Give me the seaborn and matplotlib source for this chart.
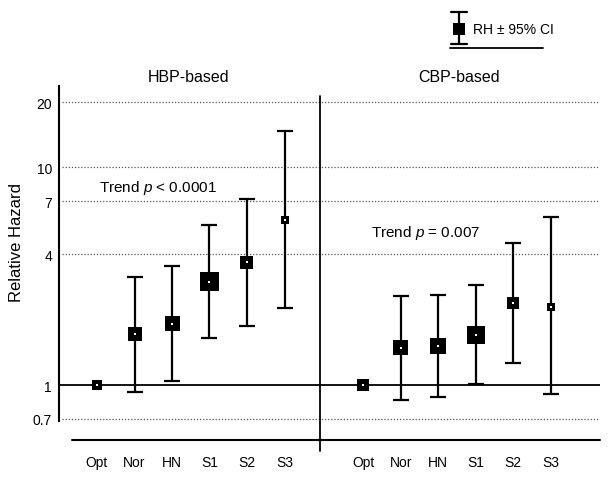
import numpy as np
import pandas as pd
import matplotlib
matplotlib.use("Agg")
import matplotlib.pyplot as plt
import seaborn as sns

# ---------------- data ----------------
categories = ["Opt", "Nor", "HN", "S1", "S2", "S3"]
hbp_rh = [1.0, 1.72, 1.91, 2.98, 3.67, 5.75]
hbp_lo = [1.0, 0.93, 1.04, 1.64, 1.86, 2.25]
hbp_hi = [1.0, 3.13, 3.51, 5.44, 7.17, 14.7]
cbp_rh = [1.0, 1.48, 1.51, 1.70, 2.37, 2.29]
cbp_lo = [1.0, 0.853, 0.884, 1.01, 1.26, 0.912]
cbp_hi = [1.0, 2.56, 2.59, 2.89, 4.50, 5.92]
y_ticks = [0.7, 1, 4, 7, 10, 20]
y_tick_labels = ["0.7", "1", "4", "7", "10", "20"]
panel_titles = ["HBP-based", "CBP-based"]
trend_texts = ["Trend $p$ < 0.0001", "Trend $p$ = 0.007"]

# ---------------- style ----------------
hbp_marker_px = [10, 14, 15, 19, 13, 8]
cbp_marker_px = [12, 15, 16, 18, 12, 8]

sns.set_style("white")
plt.rcParams["font.family"] = ["Liberation Sans", "DejaVu Sans"]
plt.rcParams["mathtext.fontset"] = "custom"
plt.rcParams["mathtext.rm"] = "Liberation Sans"
plt.rcParams["mathtext.it"] = "Liberation Sans:italic"
for k in ["text.color", "axes.labelcolor", "xtick.color", "ytick.color"]:
    plt.rcParams[k] = "black"

W, H = 610, 481
fig = plt.figure(figsize=(W / 100, H / 100), dpi=100)

# pixel mapping helpers (y: log scale)
def py2val(py):
    return 10 ** ((386 - py) / 217.5)

ax_l, ax_r, ax_t, ax_b = 59, 600, 87, 452
ax = fig.add_axes([ax_l / W, 1 - ax_b / H, (ax_r - ax_l) / W, (ax_b - ax_t) / H])
ax.set_yscale("log")
ax.set_ylim(py2val(ax_b), py2val(ax_t))
x0_px, step_px = 97, 37.5
def px2x(px):
    return (px - x0_px) / step_px
ax.set_xlim(px2x(ax_l), px2x(ax_r))

x_left = np.arange(6, dtype=float)
x_right = 7.1 + np.arange(6, dtype=float)

df = pd.DataFrame({
    "x": np.concatenate([x_left, x_right]),
    "rh": hbp_rh + cbp_rh,
    "lo": hbp_lo + cbp_lo,
    "hi": hbp_hi + cbp_hi,
    "msize": hbp_marker_px + cbp_marker_px,
    "cat": categories + categories,
})

# gridlines
for v in [0.7, 4, 7, 10, 20]:
    ax.plot([px2x(62), px2x(600)], [v, v], ls=(0, (1, 1.5)), color="#555555", lw=0.9, zorder=1)
ax.axhline(1, color="black", lw=1.3, zorder=2)

# error bars
err = np.vstack([df["rh"] - df["lo"], df["hi"] - df["rh"]])
mask = df["hi"] > df["lo"]
ax.errorbar(df["x"][mask], df["rh"][mask], yerr=err[:, mask.values], fmt="none",
            ecolor="black", elinewidth=1.6, capsize=5.8, capthick=1.6, zorder=3)

# markers
sns.scatterplot(data=df, x="x", y="rh", marker="s", color="black", linewidth=0,
                s=(df["msize"] * 0.72) ** 2, ax=ax, legend=False, zorder=4)
ax.scatter(df["x"], df["rh"], marker="s", s=0.9, color="white", linewidths=0, zorder=5)

# spines
for s in ["top", "right", "bottom"]:
    ax.spines[s].set_visible(False)
ax.spines["left"].set_linewidth(1.5)
ax.spines["left"].set_color("black")
ax.spines["left"].set_bounds(py2val(422), py2val(ax_t))

# divider and bottom line
ax.plot([px2x(320), px2x(320)], [py2val(ax_b), py2val(97)], color="black", lw=1.3,
        clip_on=False, zorder=2)
ax.plot([px2x(72), px2x(600)], [py2val(441), py2val(441)], color="black", lw=1.5,
        clip_on=False, zorder=2)

# ticks
ax.yaxis.set_major_locator(matplotlib.ticker.FixedLocator(y_ticks))
ax.yaxis.set_minor_locator(matplotlib.ticker.NullLocator())
ax.set_yticklabels(y_tick_labels, fontsize=10)
ax.tick_params(axis="y", length=0, pad=5)
ax.set_xticks(list(x_left) + list(x_right))
ax.set_xticklabels(categories + categories, fontsize=10)
ax.tick_params(axis="x", length=0, pad=3)
ax.set_xlabel("")
ax.set_ylabel("")
ax.grid(False)

fig.text(17 / W, 1 - 242 / H, "Relative Hazard", rotation=90, ha="center", va="center", fontsize=12)
fig.text(189 / W, 1 - 78 / H, panel_titles[0], ha="center", va="center", fontsize=11.5)
fig.text(459 / W, 1 - 78 / H, panel_titles[1], ha="center", va="center", fontsize=11.5)
fig.text(99 / W, 1 - 188 / H, trend_texts[0], ha="left", va="center", fontsize=11)
fig.text(371 / W, 1 - 233 / H, trend_texts[1], ha="left", va="center", fontsize=11)

# legend (figure coords)
def fl(xs, ys, **kw):
    fig.add_artist(plt.Line2D([x / W for x in xs], [1 - y / H for y in ys],
                              transform=fig.transFigure, color="black", **kw))
fl([459, 459], [13, 45], lw=1.6)
fl([451, 467], [13, 13], lw=1.6)
fl([451, 467], [45, 45], lw=1.6)
fl([450, 543], [49, 49], lw=1.3)
fl([459], [30], marker="s", markersize=12 * 0.72, lw=0, markeredgewidth=0)
fig.text(473 / W, 1 - 30 / H, "RH ± 95% CI", ha="left", va="center", fontsize=10)

fig.savefig("out.png", dpi=100)
